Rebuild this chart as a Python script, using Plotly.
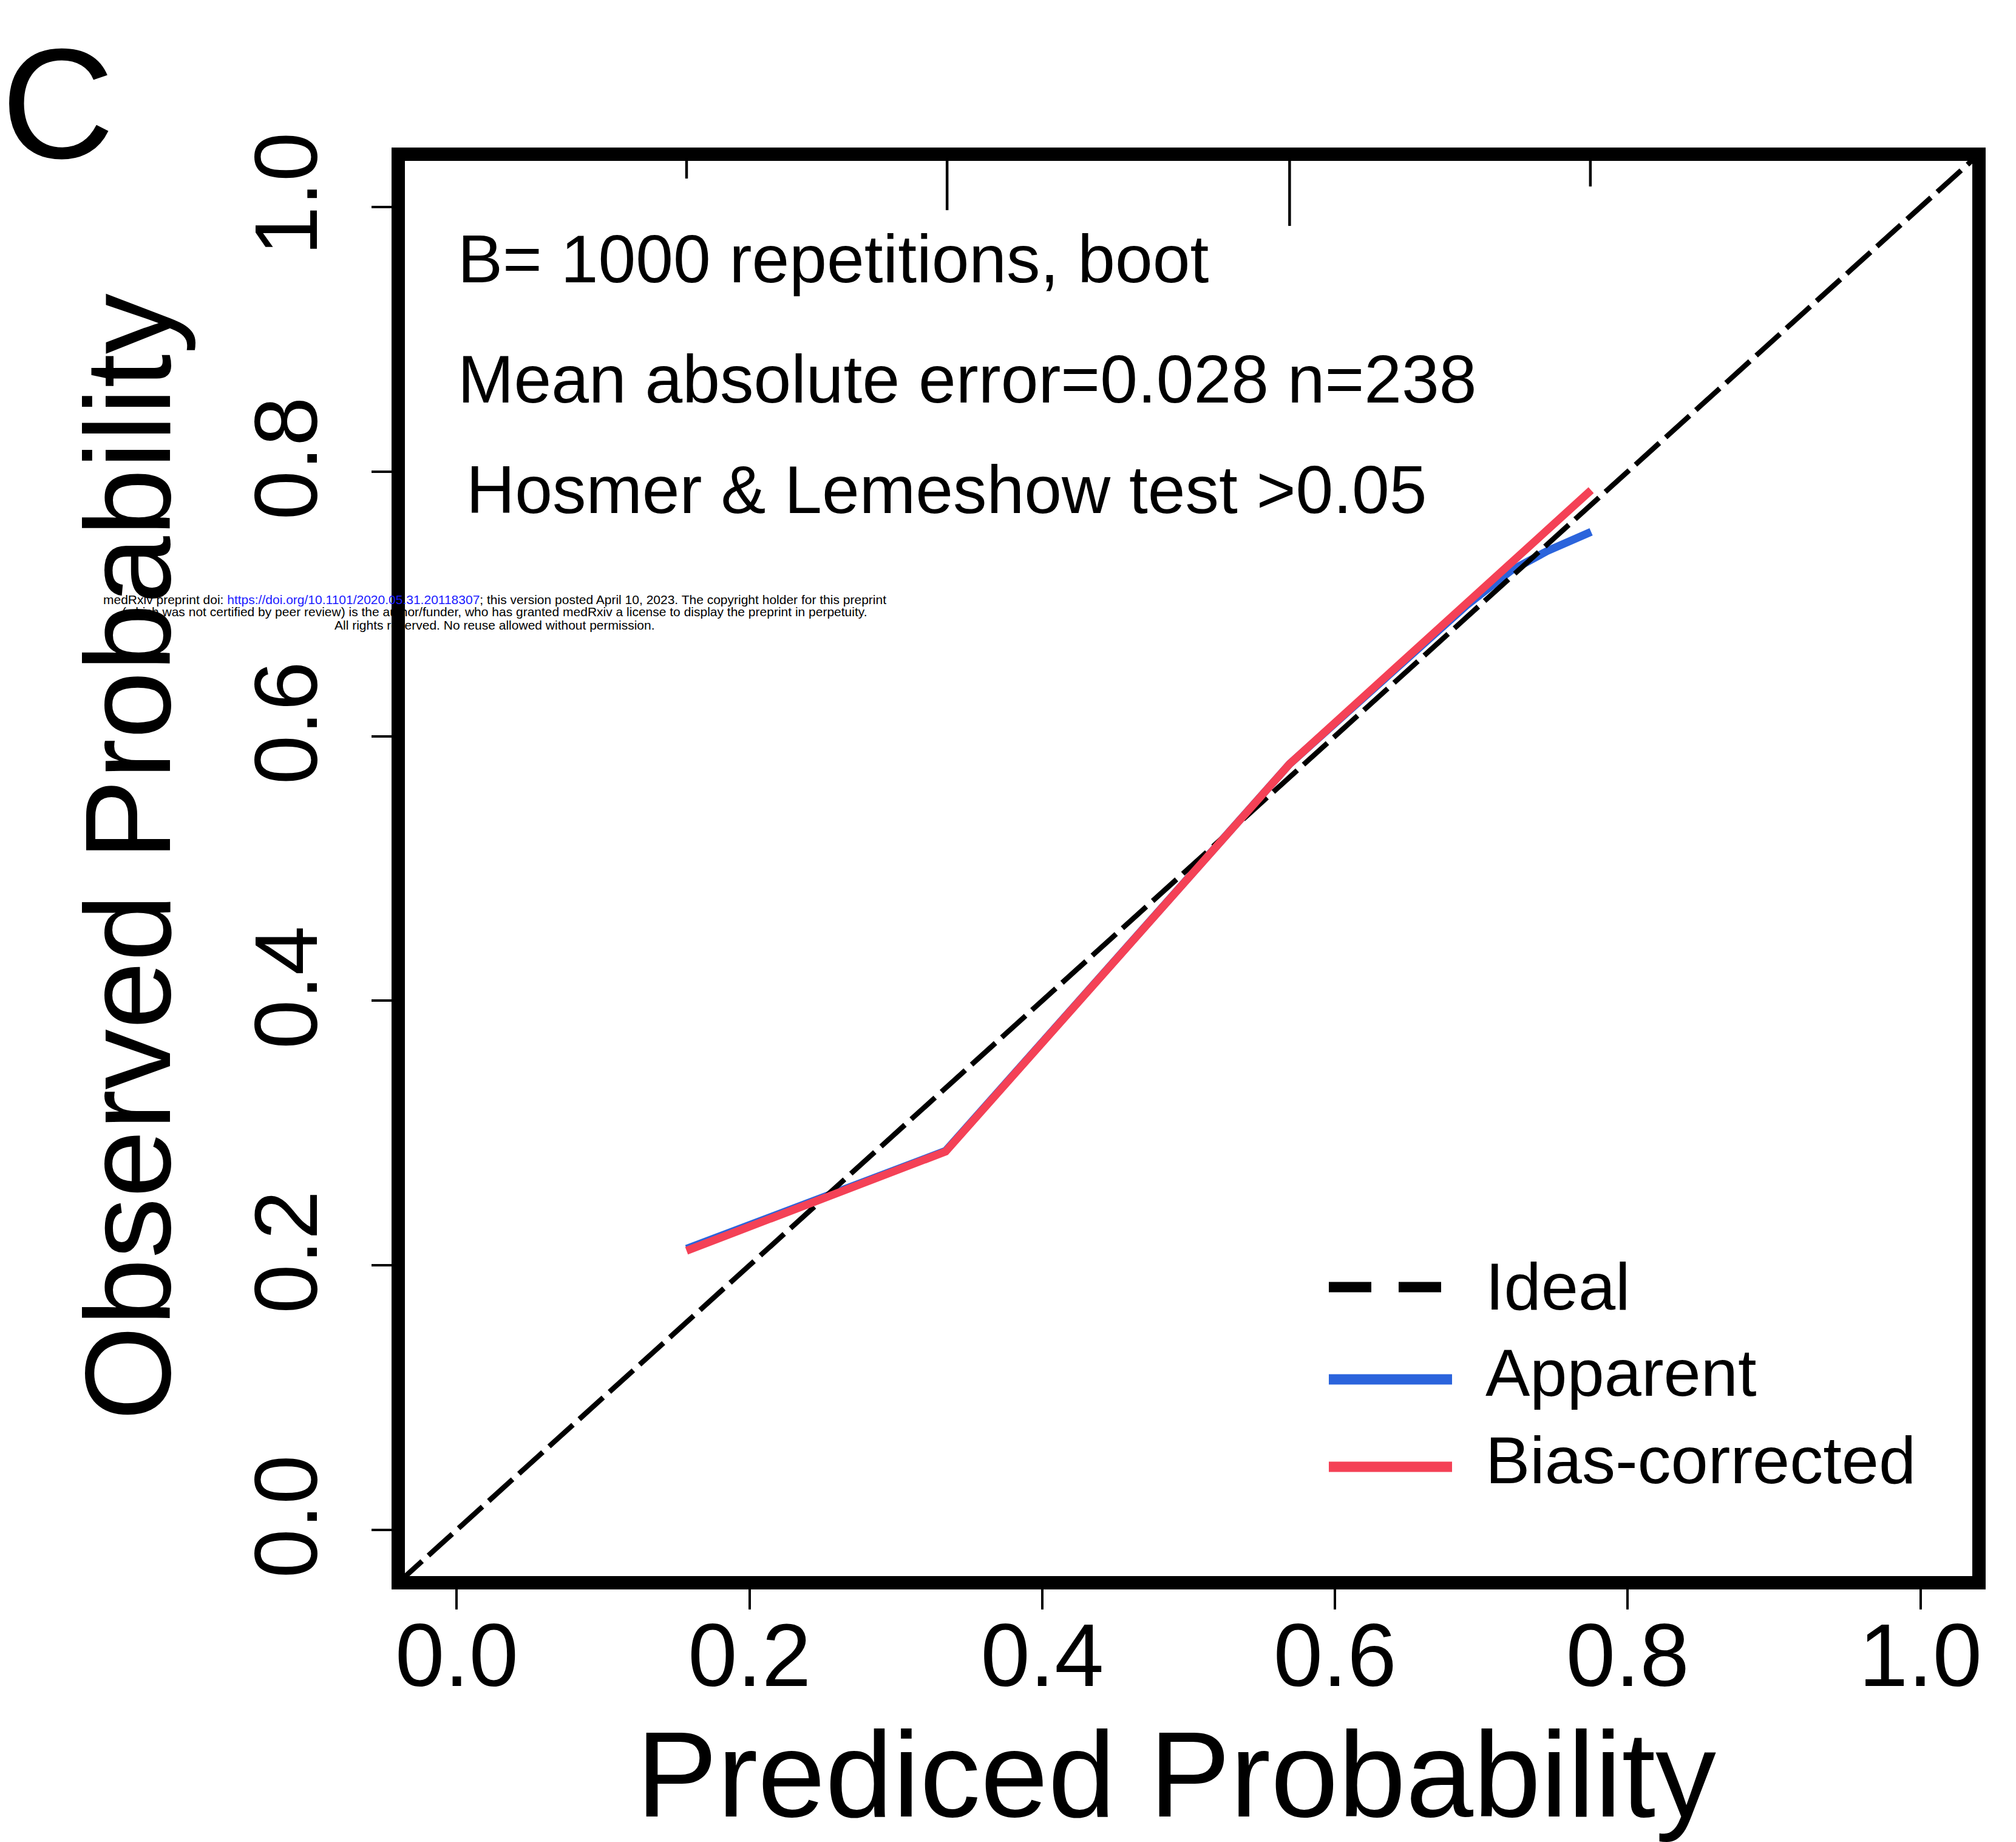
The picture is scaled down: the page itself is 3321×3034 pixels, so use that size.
import plotly.graph_objects as go

# ---------------- data ----------------
pred_apparent = [0.157, 0.334, 0.569, 0.690, 0.720, 0.745, 0.775]
obs_apparent = [0.2125, 0.2865, 0.579, 0.699, 0.725, 0.740, 0.7545]

pred_bias = [0.157, 0.334, 0.569, 0.775]
obs_bias = [0.211, 0.286, 0.579, 0.786]

# distinct predicted values (spike histogram on top) and spike bottoms
spike_x = [0.157, 0.335, 0.569, 0.7745]
spike_end = [1.0216, 0.9977, 0.9858, 1.0156]

tick_vals = [0.0, 0.2, 0.4, 0.6, 0.8, 1.0]
tick_text = ["0.0", "0.2", "0.4", "0.6", "0.8", "1.0"]
axis_range = [-0.04, 1.04]

stats_lines = [
    "B= 1000 repetitions, boot",
    "Mean absolute error=0.028 n=238",
    "Hosmer & Lemeshow test >0.05",
]
legend_labels = ["Ideal", "Apparent", "Bias-corrected"]

watermark = [
    "medRxiv preprint doi: <span style='color:#1a1aff'>https://doi.org/10.1101/2020.05.31.20118307</span>; this version posted April 10, 2023. The copyright holder for this preprint",
    "(which was not certified by peer review) is the author/funder, who has granted medRxiv a license to display the preprint in perpetuity.",
    "All rights reserved. No reuse allowed without permission.",
]

# ---------------- styling ----------------
W, H = 3321, 3034
L, R, T, B = 656, 61, 254, 427
PW, PH = W - L - R, H - T - B
FONT = "Liberation Sans, Arial, Helvetica, sans-serif"
BLUE = "#2B64DC"
RED = "#F44156"
PAD = "<span style='color:rgba(0,0,0,0)'>{}</span>"


def px(xp):
    return (xp - L) / PW


def py(yp):
    return (H - B - yp) / PH


fig = go.Figure()

# spike histogram at top
for sx, se in zip(spike_x, spike_end):
    fig.add_trace(go.Scatter(x=[sx, sx], y=[axis_range[1], se], mode="lines",
                             line=dict(color="black", width=4.5),
                             showlegend=False, hoverinfo="skip"))

fig.add_trace(go.Scatter(x=pred_apparent, y=obs_apparent, mode="lines",
                         name="Apparent", line=dict(color=BLUE, width=13),
                         showlegend=False))
fig.add_trace(go.Scatter(x=axis_range, y=axis_range, mode="lines", name="Ideal",
                         line=dict(color="black", width=8.5, dash="53px,14px"),
                         showlegend=False))
fig.add_trace(go.Scatter(x=pred_bias, y=obs_bias, mode="lines",
                         name="Bias-corrected", line=dict(color=RED, width=13),
                         showlegend=False))

shapes = [dict(type="rect", xref="paper", yref="paper", x0=0, x1=1, y0=0, y1=1,
               line=dict(color="black", width=22), layer="above")]

# manual legend (long line samples like the R legend)
leg_y = [2120, 2272, 2416]
leg_styles = [dict(color="black", width=17, dash="70px,45px"),
              dict(color=BLUE, width=17),
              dict(color=RED, width=17)]
leg_x1 = [2375, 2392, 2392]
for yy, st, x1 in zip(leg_y, leg_styles, leg_x1):
    shapes.append(dict(type="line", xref="paper", yref="paper",
                       x0=px(2189), x1=px(x1), y0=py(yy), y1=py(yy), line=st))

annotations = []
for txt, xx, yy in zip(stats_lines, [752, 752, 766], [427, 625, 807]):
    annotations.append(dict(text=txt, xref="paper", yref="paper", x=px(xx), y=py(yy),
                            xanchor="left", yanchor="middle", showarrow=False,
                            font=dict(size=111, color="black", family=FONT)))
for txt, yy in zip(legend_labels, [2118, 2260, 2404]):
    annotations.append(dict(text=txt, xref="paper", yref="paper", x=px(2445), y=py(yy),
                            xanchor="left", yanchor="middle", showarrow=False,
                            font=dict(size=110, color="black", family=FONT)))
for txt, yy in zip(watermark, [987, 1008, 1029]):
    annotations.append(dict(text=txt, xref="paper", yref="paper", x=px(815), y=py(yy),
                            xanchor="center", yanchor="middle", showarrow=False,
                            font=dict(size=21, color="black", family=FONT)))
annotations.append(dict(text="C", xref="paper", yref="paper", x=px(0), y=py(170),
                        xanchor="left", yanchor="middle", showarrow=False,
                        font=dict(size=258, color="black", family=FONT)))

axis_common = dict(range=axis_range, tickvals=tick_vals, ticktext=tick_text,
                   ticks="outside", ticklen=43, tickwidth=4, tickcolor="black",
                   showgrid=False, zeroline=False, showline=False,
                   tickfont=dict(size=146, color="black", family=FONT),
                   fixedrange=True)

fig.update_layout(
    width=W, height=H,
    margin=dict(l=L, r=R, t=T, b=B, autoexpand=False),
    paper_bgcolor="white", plot_bgcolor="white",
    font=dict(family=FONT, color="black"),
    xaxis=dict(**axis_common, ticklabelstandoff=-49,
               title=dict(text="Prediced Probability" + PAD.format("."),
                          font=dict(size=200, family=FONT, color="black"),
                          standoff=134)),
    yaxis=dict(**axis_common, tickangle=-90, ticklabelstandoff=32,
               title=dict(text=PAD.format("'") + "Observed Probability",
                          font=dict(size=200, family=FONT, color="black"),
                          standoff=40)),
    shapes=shapes,
    annotations=annotations,
    showlegend=False,
)

fig.write_html("out.html")
